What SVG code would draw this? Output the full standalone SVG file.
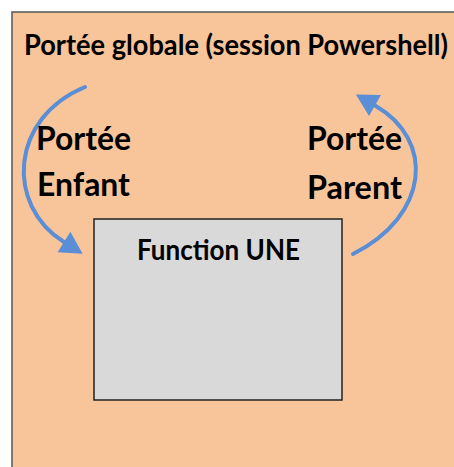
<svg xmlns="http://www.w3.org/2000/svg" width="454" height="467" viewBox="0 0 454 467">
  <style>
    .lbl { font-family: Lato, "Liberation Sans", sans-serif; font-weight: bold; fill: #000; }
    .flow { fill: none; stroke: #5A8ED6; stroke-width: 4; stroke-linecap: round; }
  </style>
  <defs>
    <marker id="head" markerUnits="userSpaceOnUse" markerWidth="24" markerHeight="24" refX="0" refY="12" orient="auto" overflow="visible">
      <path d="M0,0 L22,12 L0,24 z" fill="#5A8ED6"/>
    </marker>
  </defs>
  <rect width="454" height="467" fill="#fff"/>

  <g id="global-scope">
    <rect x="12" y="12" width="460" height="470" fill="#F8C59B" stroke="#555" stroke-width="1.5"/>
    <text class="lbl" x="24" y="55" font-size="28" textLength="424" lengthAdjust="spacingAndGlyphs">Portée globale (session Powershell)</text>
  </g>

  <g id="function-une">
    <rect x="94" y="219" width="248" height="181" fill="#D9D9D9" stroke="#222" stroke-width="1.5"/>
    <text class="lbl" x="137" y="260" font-size="28" textLength="163" lengthAdjust="spacingAndGlyphs">Function UNE</text>
  </g>

  <g id="connectors">
    <path class="flow" d="M85,87 C10,118 5,205 64,242" marker-end="url(#head)"/>
    <path class="flow" d="M353,254 C430,215 435,140 375,105.5" marker-end="url(#head)"/>
  </g>

  <g id="child-scope-label">
    <text class="lbl" x="36" y="150" font-size="32" textLength="95" lengthAdjust="spacingAndGlyphs">Portée</text>
    <text class="lbl" x="37" y="196" font-size="32" textLength="93" lengthAdjust="spacingAndGlyphs">Enfant</text>
  </g>

  <g id="parent-scope-label">
    <text class="lbl" x="307" y="150" font-size="32" textLength="95" lengthAdjust="spacingAndGlyphs">Portée</text>
    <text class="lbl" x="307" y="199" font-size="32" textLength="95" lengthAdjust="spacingAndGlyphs">Parent</text>
  </g>
</svg>
